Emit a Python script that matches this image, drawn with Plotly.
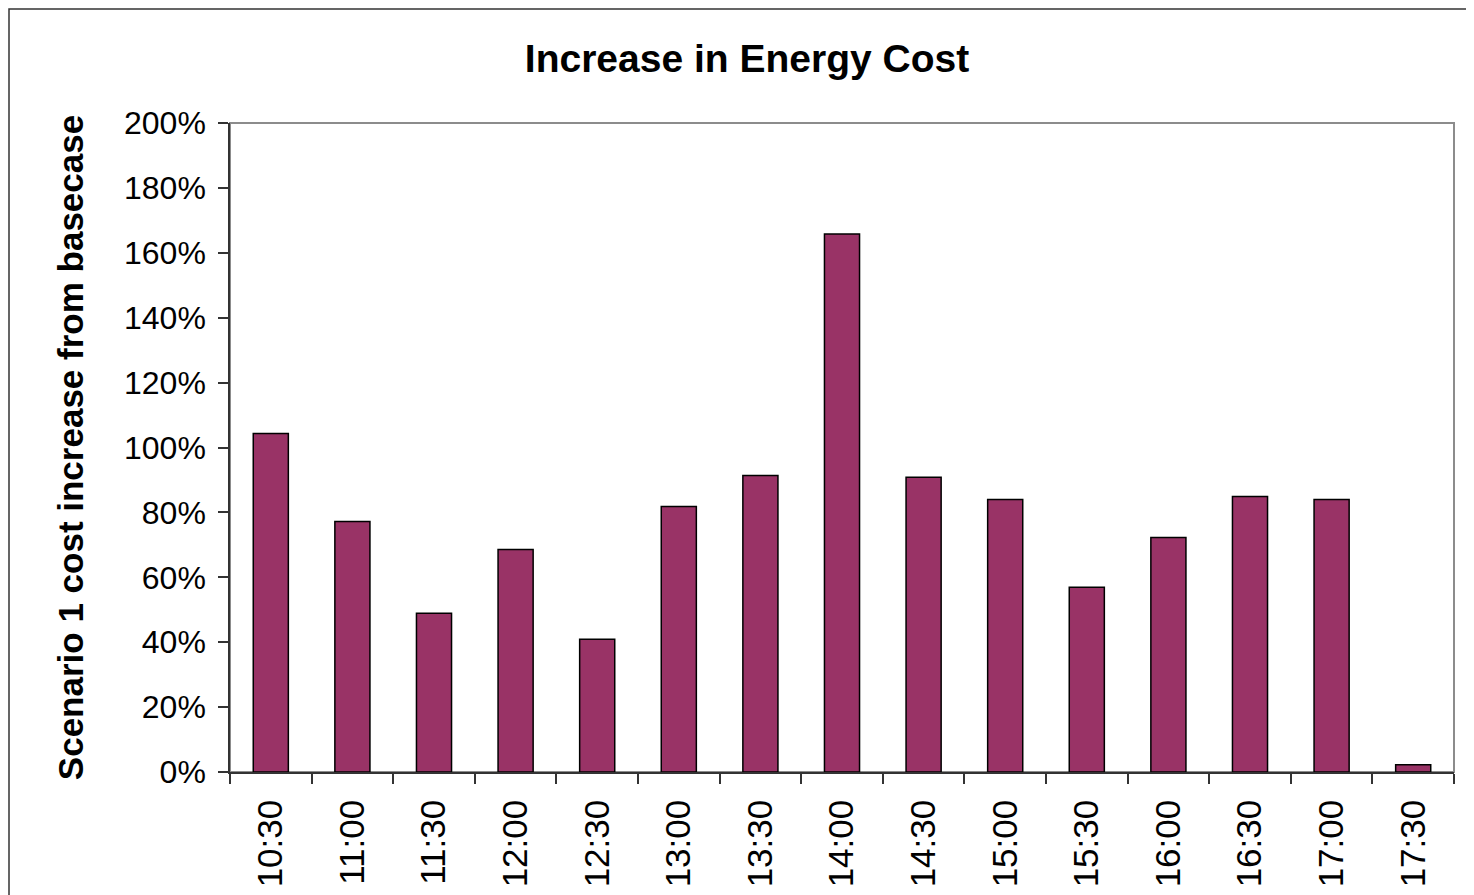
import plotly.graph_objects as go

times = ["10:30", "11:00", "11:30", "12:00", "12:30", "13:00", "13:30", "14:00",
         "14:30", "15:00", "15:30", "16:00", "16:30", "17:00", "17:30"]
increase_pct = [104.3, 77.2, 48.9, 68.6, 40.9, 81.8, 91.4, 165.8,
                90.8, 84.0, 56.9, 72.3, 84.9, 84.0, 2.2]
y_ticks = [0, 20, 40, 60, 80, 100, 120, 140, 160, 180, 200]
y_ticklabels = [f"{v}%" for v in y_ticks]

FONT = "Liberation Sans, Arial, sans-serif"
L, R, T, B = 222, 28, 115, 131
PW = 1474 - L - R
PH = 895 - T - B

fig = go.Figure(go.Bar(
    x=times, y=increase_pct,
    marker=dict(color="#993366", line=dict(color="black", width=1.5)),
    width=0.43,
))

fig.update_layout(
    width=1474, height=895,
    paper_bgcolor="white", plot_bgcolor="white",
    margin=dict(l=L, r=R, t=T, b=B),
    showlegend=False,
    title=dict(text="<b>Increase in Energy Cost</b>", x=(747 - 8) / 1474, xanchor="center",
               y=1 - (58 - 8) / 895, yanchor="middle",
               font=dict(family=FONT, size=39, color="black")),
    font=dict(family=FONT, color="black"),
)

fig.update_yaxes(
    range=[0, 200], tickvals=y_ticks, ticktext=y_ticklabels,
    tickfont=dict(size=32, color="black"), ticklabelstandoff=6,
    ticks="outside", ticklen=10, tickcolor="#333", tickwidth=1.5,
    showline=True, linecolor="#333", linewidth=1.5,
    showgrid=False, zeroline=False,
    title=dict(text="<b>Scenario 1 cost increase from basecase</b>",
               font=dict(size=35, color="black"), standoff=30),
)
fig.update_xaxes(
    tickangle=-90, tickfont=dict(size=35, color="black"), ticklabelstandoff=12,
    ticks="outside", ticklen=10, tickcolor="#333", tickwidth=1.5, tickson="boundaries",
    showline=True, linecolor="#333", linewidth=1.5, showgrid=False,
)

# gray plot-area border (top/right)
fig.add_shape(type="rect", xref="paper", yref="paper", x0=0, y0=0, x1=1, y1=1,
              line=dict(color="#8c8c8c", width=2), layer="below")
# outer chart border
fig.add_shape(type="rect", xref="paper", yref="paper",
              x0=(1 - L) / PW, y0=-0.4, x1=1.1, y1=1 + (T - 1) / PH,
              line=dict(color="#333", width=1.5))

fig.write_html("out.html")
